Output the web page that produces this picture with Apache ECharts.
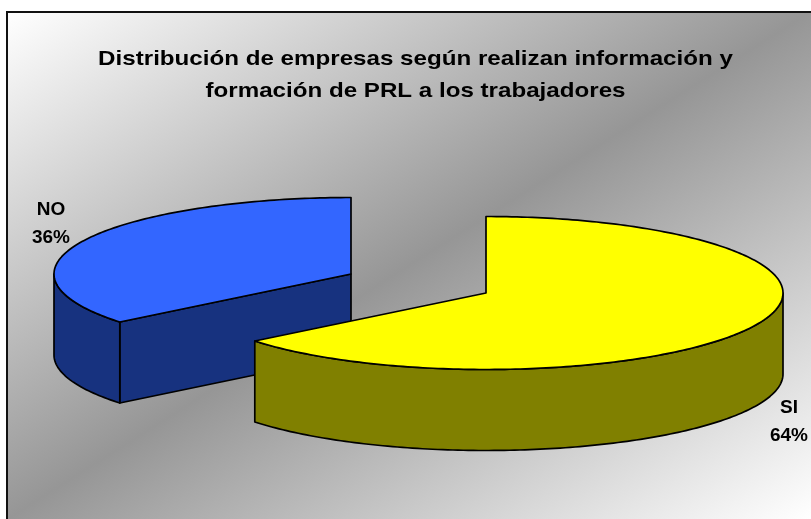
<!DOCTYPE html>
<html>
<head>
<meta charset="utf-8">
<style>html,body{margin:0;padding:0;background:#fff}#c{width:811px;height:519px}</style>
<script src="https://cdn.jsdelivr.net/npm/echarts@6/dist/echarts.min.js"></script>
</head>
<body>
<div id="c"></div>
<script>
const titleText = 'Distribución de empresas según realizan información y\nformación de PRL a los trabajadores';
const categories = ['SI', 'NO'];
const percentages = [64.2, 35.8];
const topColors = ['#FFFF00', '#3366FF'];
const sideColors = ['#808000', '#17327F'];

const RX = 297, RY = 76.5, DEPTH = 81;
const centers = [[486, 293], [351, 274]];
const labelPositions = [[789, 422], [51, 224]];
const STROKE = { stroke: '#000', lineWidth: 1.7, lineJoin: 'round' };

function ellipsePoint(c, deg, dy) {
  const a = deg * Math.PI / 180;
  return [c[0] + RX * Math.sin(a), c[1] - RY * Math.cos(a) + (dy || 0)];
}
function arcPoints(c, from, to, dy) {
  const n = Math.max(2, Math.ceil(Math.abs(to - from)));
  const pts = [];
  for (let i = 0; i <= n; i++) pts.push(ellipsePoint(c, from + (to - from) * i / n, dy));
  return pts;
}

const total = percentages.reduce((a, b) => a + b, 0);

function renderItem(params, api) {
  const i = api.value(0);
  let start = 0;
  for (let k = 0; k < i; k++) start += percentages[k] / total * 360;
  const end = start + api.value(1) / total * 360;
  const c = centers[i];
  const children = [];
  const side = { fill: sideColors[i], ...STROKE };

  if (i === 1) {
    const p = ellipsePoint(c, start);
    children.push({ type: 'polygon', shape: { points: [c, p, [p[0], p[1] + DEPTH], [c[0], c[1] + DEPTH]] }, style: side });
  }
  const wallFrom = Math.max(start, 90), wallTo = Math.min(end, 270);
  if (wallTo > wallFrom) {
    const rim = arcPoints(c, wallFrom, wallTo, 0);
    const low = arcPoints(c, wallTo, wallFrom, DEPTH);
    children.push({ type: 'polygon', shape: { points: rim.concat(low) }, style: side });
  }
  children.push({ type: 'polygon', shape: { points: [c].concat(arcPoints(c, start, end, 0)) },
    style: { fill: topColors[i], ...STROKE } });
  children.push({ type: 'text', x: labelPositions[i][0], y: labelPositions[i][1],
    style: { text: categories[i] + '\n' + Math.round(api.value(1)) + '%', fill: '#000',
      font: 'bold 19px "Liberation Sans", Arial, sans-serif', lineHeight: 28, align: 'center', verticalAlign: 'middle' } });
  return { type: 'group', children };
}

const chart = echarts.init(document.getElementById('c'), null, { renderer: 'canvas' });
chart.setOption({
  animation: false,
  backgroundColor: '#fff',
  graphic: [{
    type: 'rect', z: -10, silent: true,
    shape: { x: 7, y: 12, width: 820, height: 530 },
    style: {
      stroke: '#111', lineWidth: 2,
      fill: { type: 'linear', global: true, x: 180, y: -97, x2: 638, y2: 628,
        colorStops: [{ offset: 0, color: '#ffffff' }, { offset: 0.5, color: '#969696' }, { offset: 1, color: '#ffffff' }] }
    }
  }, {
    type: 'text', z: 10, silent: true, x: 415.5, y: 75, originX: 0, originY: 0, scaleX: 1.15,
    style: { text: titleText, fill: '#000', align: 'center', verticalAlign: 'middle',
      font: 'bold 21px "Liberation Sans", Arial, sans-serif', lineHeight: 32 }
  }],
  series: [{
    type: 'custom',
    coordinateSystem: 'none',
    data: categories.map((n, i) => [i, percentages[i]]).reverse(),
    renderItem,
    z: 5
  }]
});
</script>
</body>
</html>
